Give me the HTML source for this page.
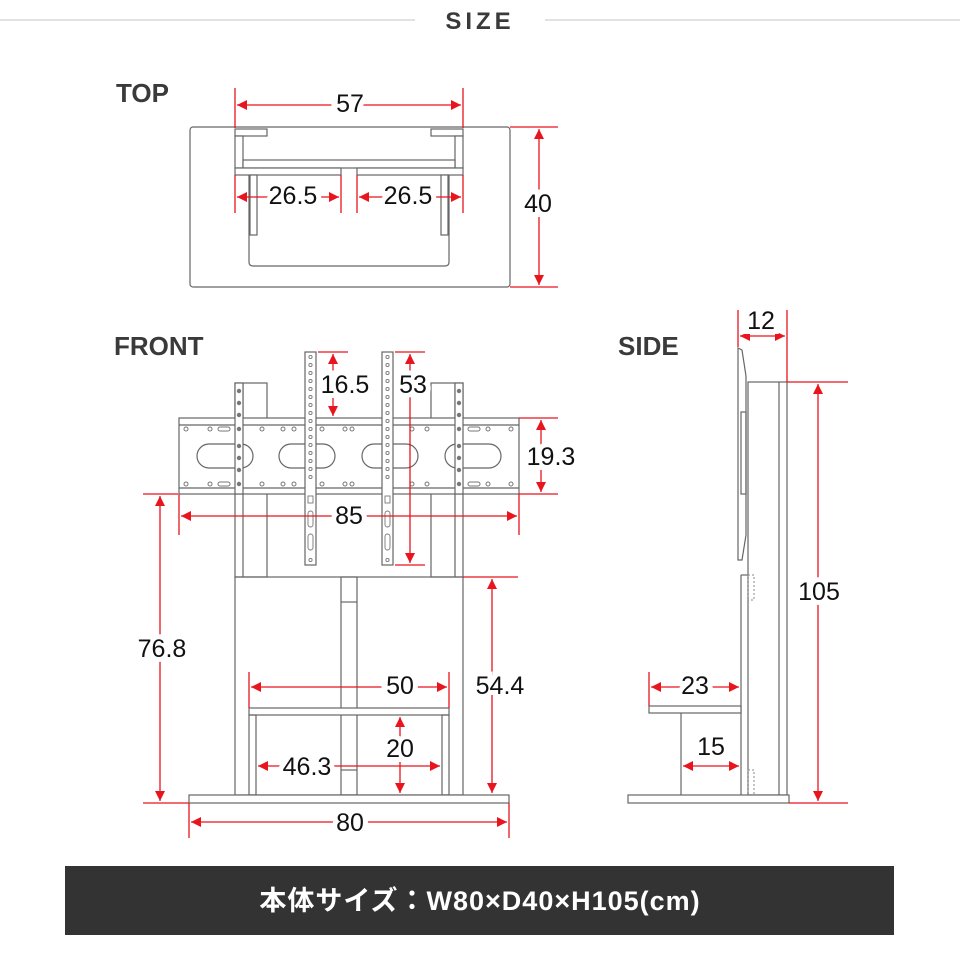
<!DOCTYPE html>
<html><head><meta charset="utf-8"><style>
html,body{margin:0;padding:0;background:#fff}
svg{display:block}
.g{fill:none;stroke:#666;stroke-width:1.2}
.gf{fill:#fff;stroke:#666;stroke-width:1.2}
.r{stroke:#e8141e;stroke-width:1.3;fill:none}
.d{stroke:#e8141e;stroke-width:1.3;fill:none;marker-start:url(#a);marker-end:url(#a)}
.t{font-family:"Liberation Sans",sans-serif;font-size:25px;fill:#111;text-anchor:middle;dominant-baseline:central;stroke:#fff;stroke-width:10;paint-order:stroke}
.h{font-family:"Liberation Sans",sans-serif;font-weight:bold;font-size:26px;fill:#3a3a3a}
</style></head><body>
<svg width="960" height="960" viewBox="0 0 960 960">
<defs>
<marker id="a" viewBox="0 0 10 10" refX="10" refY="5" markerWidth="15" markerHeight="10" orient="auto-start-reverse" markerUnits="userSpaceOnUse"><path d="M0,0L10,5L0,10z" fill="#e8141e"/></marker>
</defs>
<line x1="0" y1="20" x2="415" y2="20" stroke="#e2e2e2" stroke-width="2"/>
<line x1="545" y1="20" x2="960" y2="20" stroke="#e2e2e2" stroke-width="2"/>
<text x="480" y="29" text-anchor="middle" class="h" style="font-size:24px;letter-spacing:4px">SIZE</text>
<text x="116" y="102" class="h">TOP</text>
<text x="114" y="355" class="h">FRONT</text>
<text x="618" y="355" class="h">SIDE</text>

<!-- TOP VIEW -->
<rect x="190" y="127" width="320" height="160" rx="3" class="g"/>
<path d="M249,175V262q0,4 4,4H445q4,0 4-4V175" class="g"/>
<rect x="235" y="129" width="32" height="7" class="gf"/>
<rect x="431" y="129" width="32" height="7" class="gf"/>
<rect x="235" y="136" width="8" height="32" class="gf"/>
<rect x="455" y="136" width="8" height="32" class="gf"/>
<rect x="243" y="160" width="212" height="8" class="gf"/>
<rect x="235" y="168" width="106" height="7" class="gf"/>
<rect x="357" y="168" width="106" height="7" class="gf"/>
<rect x="250" y="175" width="7" height="60" class="gf"/>
<rect x="441" y="175" width="7" height="60" class="gf"/>
<line x1="235" y1="88" x2="235" y2="128" class="r"/><line x1="463" y1="88" x2="463" y2="128" class="r"/>
<line x1="237" y1="105" x2="461" y2="105" class="d"/>
<text x="350" y="104" class="t">57</text>
<line x1="235" y1="175" x2="235" y2="213" class="r"/><line x1="341" y1="175" x2="341" y2="213" class="r"/>
<line x1="357" y1="175" x2="357" y2="213" class="r"/><line x1="463" y1="175" x2="463" y2="213" class="r"/>
<line x1="237" y1="197" x2="339" y2="197" class="d"/>
<line x1="359" y1="197" x2="461" y2="197" class="d"/>
<text x="293" y="196" class="t">26.5</text>
<text x="408" y="196" class="t">26.5</text>
<line x1="510" y1="127" x2="558" y2="127" class="r"/><line x1="510" y1="287" x2="558" y2="287" class="r"/>
<line x1="539" y1="129" x2="539" y2="285" class="d"/>
<text x="538" y="204" class="t">40</text>

<!-- FRONT VIEW -->
<rect x="235" y="577" width="228" height="218" class="g"/>
<rect x="341" y="577" width="16" height="218" class="g"/>
<line x1="341" y1="602" x2="357" y2="602" class="g"/>
<line x1="341" y1="770" x2="357" y2="770" class="g"/>
<rect x="249" y="708" width="200" height="7" class="gf"/>
<rect x="249" y="715" width="7" height="80" class="g"/>
<rect x="442" y="715" width="7" height="80" class="g"/>
<rect x="189" y="795" width="320" height="8" class="gf"/>
<rect x="235" y="383" width="32" height="194" class="g"/>
<rect x="431" y="383" width="32" height="194" class="g"/>
<line x1="243" y1="383" x2="243" y2="577" class="g"/>
<line x1="455" y1="383" x2="455" y2="577" class="g"/>
<rect x="179" y="418" width="340" height="76" class="gf"/>
<line x1="179" y1="425" x2="519" y2="425" class="g"/>
<line x1="179" y1="488" x2="519" y2="488" class="g"/>
<g class="g">
<rect x="197" y="444" width="56" height="24" rx="12"/>
<rect x="279" y="444" width="56" height="24" rx="12"/>
<rect x="362" y="444" width="56" height="24" rx="12"/>
<rect x="445" y="444" width="56" height="24" rx="12"/>
</g>
<g fill="none" stroke="#777" stroke-width="1">
<circle cx="186" cy="429" r="2"/><circle cx="210" cy="429" r="2"/><circle cx="262" cy="429" r="2"/><circle cx="283" cy="429" r="2"/><circle cx="294" cy="429" r="2"/><circle cx="322" cy="429" r="2"/><circle cx="352" cy="429" r="2"/><circle cx="345" cy="429" r="2"/><circle cx="412" cy="429" r="2"/><circle cx="427" cy="429" r="2"/><circle cx="488" cy="429" r="2"/><circle cx="511" cy="429" r="2"/>
<circle cx="186" cy="484" r="2"/><circle cx="210" cy="484" r="2"/><circle cx="262" cy="484" r="2"/><circle cx="283" cy="484" r="2"/><circle cx="294" cy="484" r="2"/><circle cx="322" cy="484" r="2"/><circle cx="352" cy="484" r="2"/><circle cx="345" cy="484" r="2"/><circle cx="412" cy="484" r="2"/><circle cx="427" cy="484" r="2"/><circle cx="488" cy="484" r="2"/><circle cx="511" cy="484" r="2"/>
<rect x="218" y="427" width="12" height="4" rx="2"/><rect x="468" y="427" width="12" height="4" rx="2"/>
<rect x="218" y="482" width="12" height="4" rx="2"/><rect x="468" y="482" width="12" height="4" rx="2"/>
</g>
<rect x="235" y="383" width="8" height="111" class="gf"/>
<rect x="455" y="383" width="8" height="111" class="gf"/>
<g fill="#777">
<circle cx="239" cy="391" r="2.2"/><circle cx="239" cy="403" r="2.2"/><circle cx="239" cy="415" r="2.2"/><circle cx="239" cy="429" r="2.2"/><circle cx="239" cy="446" r="2.2"/><circle cx="239" cy="458" r="2.2"/><circle cx="239" cy="470" r="2.2"/><circle cx="239" cy="484" r="2.2"/>
<circle cx="459" cy="391" r="2.2"/><circle cx="459" cy="403" r="2.2"/><circle cx="459" cy="415" r="2.2"/><circle cx="459" cy="429" r="2.2"/><circle cx="459" cy="446" r="2.2"/><circle cx="459" cy="458" r="2.2"/><circle cx="459" cy="470" r="2.2"/><circle cx="459" cy="484" r="2.2"/>
</g>
<rect x="305" y="352" width="11" height="213" class="gf"/>
<rect x="382" y="352" width="11" height="213" class="gf"/>
<g fill="none" stroke="#777" stroke-width="0.9">
<circle cx="310.5" cy="357" r="1.6"/><circle cx="310.5" cy="365" r="1.6"/><circle cx="310.5" cy="373" r="1.6"/><circle cx="310.5" cy="381" r="1.6"/><circle cx="310.5" cy="389" r="1.6"/><circle cx="310.5" cy="397" r="1.6"/><circle cx="310.5" cy="405" r="1.6"/><circle cx="310.5" cy="413" r="1.6"/><circle cx="310.5" cy="421" r="1.6"/><circle cx="310.5" cy="429" r="1.6"/><circle cx="310.5" cy="437" r="1.6"/><circle cx="310.5" cy="445" r="1.6"/><circle cx="310.5" cy="453" r="1.6"/><circle cx="310.5" cy="461" r="1.6"/><circle cx="310.5" cy="469" r="1.6"/><circle cx="310.5" cy="477" r="1.6"/><circle cx="310.5" cy="560" r="1.6"/>
<circle cx="387.5" cy="357" r="1.6"/><circle cx="387.5" cy="365" r="1.6"/><circle cx="387.5" cy="373" r="1.6"/><circle cx="387.5" cy="381" r="1.6"/><circle cx="387.5" cy="389" r="1.6"/><circle cx="387.5" cy="397" r="1.6"/><circle cx="387.5" cy="405" r="1.6"/><circle cx="387.5" cy="413" r="1.6"/><circle cx="387.5" cy="421" r="1.6"/><circle cx="387.5" cy="429" r="1.6"/><circle cx="387.5" cy="437" r="1.6"/><circle cx="387.5" cy="445" r="1.6"/><circle cx="387.5" cy="453" r="1.6"/><circle cx="387.5" cy="461" r="1.6"/><circle cx="387.5" cy="469" r="1.6"/><circle cx="387.5" cy="477" r="1.6"/><circle cx="387.5" cy="560" r="1.6"/>
<rect x="308" y="496" width="5" height="7"/><rect x="308" y="511" width="5" height="16" rx="2.5"/><rect x="308" y="534" width="5" height="16" rx="2.5"/>
<rect x="385" y="496" width="5" height="7"/><rect x="385" y="511" width="5" height="16" rx="2.5"/><rect x="385" y="534" width="5" height="16" rx="2.5"/>
</g>
<line x1="318" y1="352" x2="348" y2="352" class="r"/>
<line x1="333" y1="354" x2="333" y2="416" class="d"/>
<text x="345" y="385" class="t">16.5</text>
<line x1="395" y1="352" x2="425" y2="352" class="r"/><line x1="395" y1="565" x2="425" y2="565" class="r"/>
<line x1="410" y1="354" x2="410" y2="563" class="d"/>
<text x="413" y="385" class="t">53</text>
<line x1="519" y1="418" x2="558" y2="418" class="r"/><line x1="519" y1="494" x2="558" y2="494" class="r"/>
<line x1="541" y1="420" x2="541" y2="492" class="d"/>
<text x="551" y="457" class="t">19.3</text>
<line x1="179" y1="494" x2="179" y2="535" class="r"/><line x1="519" y1="494" x2="519" y2="535" class="r"/>
<line x1="181" y1="516" x2="517" y2="516" class="d"/>
<text x="349" y="516" class="t">85</text>
<line x1="143" y1="494" x2="178" y2="494" class="r"/><line x1="143" y1="803" x2="189" y2="803" class="r"/>
<line x1="160" y1="496" x2="160" y2="801" class="d"/>
<text x="162" y="649" class="t">76.8</text>
<line x1="463" y1="577" x2="518" y2="577" class="r"/>
<line x1="492" y1="579" x2="492" y2="793" class="d"/>
<text x="500" y="686" class="t">54.4</text>
<line x1="249" y1="672" x2="249" y2="708" class="r"/><line x1="449" y1="672" x2="449" y2="708" class="r"/>
<line x1="251" y1="687" x2="447" y2="687" class="d"/>
<text x="400" y="686" class="t">50</text>
<line x1="258" y1="766" x2="440" y2="766" class="d"/>
<text x="307" y="767" class="t">46.3</text>
<line x1="400" y1="717" x2="400" y2="793" class="d"/>
<text x="400" y="749" class="t">20</text>
<line x1="189" y1="803" x2="189" y2="838" class="r"/><line x1="509" y1="803" x2="509" y2="838" class="r"/>
<line x1="191" y1="822" x2="507" y2="822" class="d"/>
<text x="350" y="823" class="t">80</text>

<!-- SIDE VIEW -->
<path d="M738,348L742,350L746,376V535L742,560L738,560Z" class="gf"/>
<rect x="741" y="412" width="5" height="82" class="g"/>
<rect x="748" y="382" width="39" height="413" class="gf"/>
<line x1="779" y1="382" x2="779" y2="795" class="g"/>
<line x1="741" y1="575" x2="741" y2="795" class="g"/>
<line x1="741" y1="575" x2="748" y2="575" class="g"/>
<rect x="748" y="575" width="6" height="25" fill="none" stroke="#888" stroke-dasharray="2,2"/>
<rect x="748" y="770" width="6" height="25" fill="none" stroke="#888" stroke-dasharray="2,2"/>
<rect x="649" y="706" width="92" height="7" class="gf"/>
<line x1="681" y1="713" x2="681" y2="795" class="g"/>
<rect x="628" y="795" width="161" height="8" class="gf"/>
<line x1="738" y1="310" x2="738" y2="347" class="r"/><line x1="787" y1="310" x2="787" y2="382" class="r"/>
<line x1="740" y1="336" x2="785" y2="336" class="d"/>
<text x="761" y="321" class="t">12</text>
<line x1="787" y1="382" x2="848" y2="382" class="r"/><line x1="789" y1="803" x2="848" y2="803" class="r"/>
<line x1="818" y1="384" x2="818" y2="801" class="d"/>
<text x="819" y="592" class="t">105</text>
<line x1="649" y1="672" x2="649" y2="706" class="r"/>
<line x1="651" y1="687" x2="739" y2="687" class="d"/>
<text x="695" y="686" class="t">23</text>
<line x1="683" y1="766" x2="739" y2="766" class="d"/>
<text x="711" y="747" class="t">15</text>

<rect x="65" y="866" width="829" height="69" fill="#333"/>
<text x="480" y="901" text-anchor="middle" dominant-baseline="central" fill="#fff" style="font-family:'Liberation Sans','Noto Sans CJK JP',sans-serif;font-weight:bold;font-size:27px;letter-spacing:1px">本体サイズ：W80×D40×H105(cm)</text>
</svg>
</body></html>
